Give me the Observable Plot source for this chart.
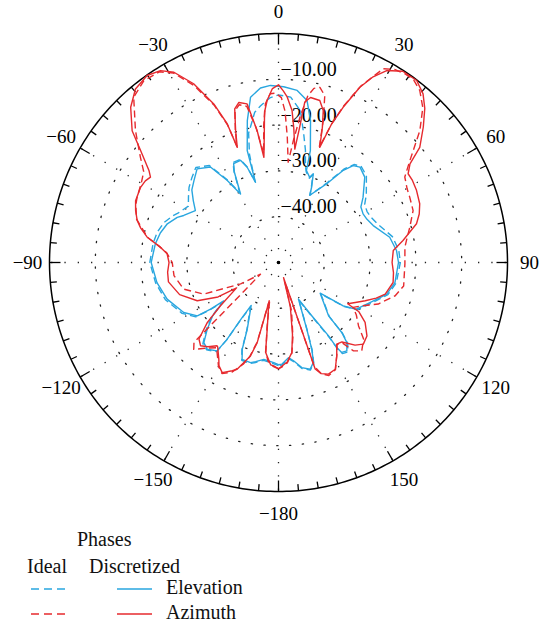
<!DOCTYPE html>
<html><head><meta charset="utf-8">
<script src="https://cdn.jsdelivr.net/npm/d3@7"></script>
<script src="https://cdn.jsdelivr.net/npm/@observablehq/plot@0.6"></script>
<style>
body{margin:0;background:#fff;}
#wrap{position:relative;width:546px;height:624px;font-family:"Liberation Serif",serif;background:#fff;}
#wrap svg{display:block;}
#legend{position:absolute;left:0;top:518px;}
</style></head><body><div id="wrap"></div>
<script>
// ---- data: [angle (deg, clockwise from top), level (dB)] ----
const elevationIdeal = [
[-180,-27.5],[-177,-27.9],[-171.4,-28.4],[-167,-27.6],[-164.4,-27.1],[-159.4,-27.2],[-157.3,-29.3],[-154.9,-33.7],
[-147.8,-38.5],[-146.6,-35],[-146.2,-29.6],[-145.2,-26.3],[-140.6,-25.3],[-137,-25.8],[-133.1,-28.3],[-129,-31.2],
[-125.3,-35],[-124.6,-31.6],[-123.3,-28.4],[-117.8,-26.2],[-108.2,-24],[-99.4,-22.8],[-90,-21.9],[-81.4,-22.3],
[-76,-22.7],[-70.8,-23.5],[-66,-24.8],[-63.6,-25.6],[-58,-26.8],[-54,-25.7],[-50,-24.5],[-45.9,-23.6],[-41,-22.5],
[-35.5,-24],[-32,-28.5],[-29,-32.5],[-26,-27.8],[-24.4,-26],[-20.4,-26],[-18.2,-28],[-16.2,-31.5],[-15,-25.5],
[-13,-21],[-11.7,-19.8],[-9,-16.8],[-6.6,-15.6],[-3,-14],[0,-13.4],[4.2,-13.8],[8.2,-16.5],[11.1,-21.4],[13.5,-24.8],
[15.5,-28],[17,-29.3],[20.1,-30.4],[21.4,-29.4],[23.7,-32.2],[25,-33.8],[31.4,-29.6],[35.1,-25],[37.6,-23],[40.5,-22.3],
[45.3,-23],[52.4,-25.8],[56,-27.3],[60.1,-27.7],[64,-27.5],[68.7,-26.8],[77.2,-24.5],[84.2,-23.6],[90,-23.4],[99.8,-23.9],
[106.4,-25.1],[113.7,-27.9],[121,-29.9],[123.8,-32.7],[126.6,-38.5],[136.8,-33.8],[137.9,-29.1],[139.5,-26.7],[142.3,-25.3],
[144.9,-25.7],[145.6,-27.2],[145.9,-30.4],[148.2,-36.1],[151.6,-40.6],[157,-34],[159,-29.5],[160.7,-26.7],[163.5,-25.5],
[167.5,-26.3],[171.3,-28.1],[174,-28.9],[178,-27.6],[180,-27.5]
];
const elevationDiscretized = [
[-180,-27.7],[-177.3,-28.1],[-171.4,-28.6],[-167,-27.8],[-164.4,-27.3],[-159.4,-27.4],[-157.3,-29.5],[-154.9,-33.9],
[-147.5,-38.9],[-146.5,-35.1],[-146.2,-29.8],[-145.2,-26.5],[-140.6,-25.5],[-137,-26.1],[-133.1,-28.7],[-129,-31.5],
[-125,-35.4],[-124.5,-32],[-123.3,-28.8],[-117.8,-26.6],[-108.2,-24.4],[-99.4,-23.1],[-90,-22.2],[-81.4,-22.8],
[-76,-23.4],[-70.8,-24.3],[-66,-25.8],[-63.6,-26.9],[-58,-28.6],[-54,-27],[-50,-25.3],[-45.9,-24.3],[-41,-22.9],
[-35.5,-24.4],[-32,-28.9],[-29,-32.9],[-26,-28],[-24.4,-26.3],[-20.4,-26.2],[-18.2,-28.1],[-16,-31.8],[-15.6,-24.6],
[-12.4,-18.3],[-9.6,-13.4],[-5.9,-11.7],[-2.6,-11.3],[1.7,-11.6],[6.2,-12.2],[10,-14.1],[12.7,-18.2],[15.9,-24.6],
[16.9,-29],[20.1,-30.2],[21.4,-29.2],[23.7,-32],[25,-33.8],[31.4,-29.9],[35.1,-25.4],[37.6,-23.3],[40.5,-22.6],
[45.3,-23.5],[52.4,-26.7],[56,-28.3],[60.1,-28.7],[64,-28.5],[68.7,-27.8],[77.2,-25.1],[84.2,-24.1],[90,-23.8],
[99.8,-24.2],[106.4,-25.4],[113.7,-28.2],[121,-30.2],[123.8,-33],[126.4,-38.7],[136.8,-34],[137.9,-29.4],[139.5,-27],
[142.3,-25.6],[144.9,-26],[145.6,-27.5],[145.7,-30.6],[148,-36.3],[151.4,-40.9],[157,-34.2],[159,-29.7],[160.7,-26.9],
[163.5,-25.7],[167.5,-26.5],[171.3,-28.3],[174,-29.1],[178,-27.8],[180,-27.7]
];
const azimuthIdeal = [
[-180,-26.8],[-177,-27.3],[-174,-28.3],[-172,-30.2],[-170,-35.5],[-166.6,-41.8],[-165,-32],[-163,-28.5],[-161,-26.6],
[-157,-24],[-153,-22.8],[-150,-23.8],[-148,-25],[-144,-27],[-140,-25.6],[-135.7,-23.5],[-133.4,-24.6],[-132.8,-29.8],
[-131.8,-35],[-129.7,-40.2],[-123,-45.3],[-119.5,-40.5],[-116,-37.5],[-113,-32.3],[-105.7,-28.5],[-97.2,-27],[-90,-26.8],
[-85,-25.5],[-82,-23.5],[-79,-20.8],[-73,-17.6],[-68,-16.4],[-65.2,-16],[-60,-15.4],[-56,-14.5],[-52.7,-12.1],
[-47.3,-7.5],[-41.2,-2],[-36.5,-0.6],[-32,-0.9],[-29,-2.7],[-25.5,-7.2],[-22.2,-13],[-20.3,-18],[-19.7,-23],[-18,-19.5],
[-16,-15.5],[-14,-14.5],[-11.5,-15.2],[-9.5,-20],[-7.7,-26],[-6.2,-20],[-4.7,-15.2],[-2.8,-13.1],[-1,-13],[1,-14],
[2.5,-17],[4,-22.5],[5.5,-28],[7,-23],[8.5,-17.5],[10,-13],[11.5,-11.2],[13.3,-10.7],[15.5,-12.2],[17.5,-17.5],
[19.5,-23.3],[21,-17.5],[22.6,-13],[25,-7.5],[28.4,-1.9],[31,-0.8],[34,-0.4],[36.5,-0.4],[39.4,-1.4],[43,-3.8],
[47,-7.8],[52.2,-13.7],[55.9,-16.7],[60,-17.6],[63.6,-18],[68.9,-18.5],[74.9,-20.3],[80,-21.6],[83.1,-22.2],[90.6,-22.4],
[100.6,-22.2],[105.9,-23.5],[112.6,-26.4],[117.5,-29.5],[121,-31],[124,-29.5],[128.4,-27.7],[132,-25],[136.7,-23.5],
[139.7,-24.7],[141.5,-27.5],[144.5,-28],[148,-26],[152,-23.5],[156,-23],[159,-24],[161,-26],[161.8,-45.5],[165,-39],
[169,-33.5],[171.6,-30],[175,-28],[178,-27.2],[180,-26.8]
];
const azimuthDiscretized = [
[-180,-26.8],[-177.4,-27.4],[-175.6,-27.6],[-171.8,-30.2],[-170.4,-35.2],[-166.4,-41],[-165.1,-31.9],[-163.3,-28.7],
[-160.9,-26.9],[-158.8,-25],[-156.9,-24.3],[-152.9,-23],[-150,-24],[-148.3,-25.2],[-144.2,-27.3],[-143.6,-27.4],
[-140,-26],[-136.9,-25.1],[-133.9,-25.9],[-130.1,-29.7],[-126.7,-34.2],[-121.2,-39.3],[-119.7,-34.8],[-115.2,-30.4],
[-108,-27.3],[-100,-25.6],[-95,-25.7],[-90,-26.1],[-85.5,-25.6],[-82.6,-24],[-79.1,-20.8],[-76,-19],[-73.4,-17.8],
[-70,-16.8],[-66.6,-16],[-61.4,-15.7],[-58.5,-15.9],[-56.3,-16.4],[-54.6,-15.3],[-50.9,-11.2],[-48,-7],[-43.6,-3.2],
[-39.5,-0.9],[-35.1,-0.1],[-31.6,-0.8],[-28.8,-2.6],[-25.4,-6.8],[-22.2,-12.6],[-20.3,-17.7],[-19.7,-23.3],[-18,-19.7],
[-15.9,-15.1],[-13.9,-14],[-11.2,-14.7],[-9.2,-20.8],[-7.9,-26.8],[-6.5,-22.5],[-5.3,-17],[-4,-14.5],[-2,-12],[0,-11.2],
[1.6,-12.5],[3,-13.8],[5.1,-16.7],[6.5,-20.5],[8.2,-25],[8.9,-20.1],[9.3,-14.5],[11,-13.3],[14.3,-13.5],[16.4,-15.4],
[18,-19],[19.7,-23.3],[21,-17.5],[22.6,-13.3],[24.9,-7.8],[27,-4.5],[29.4,-1.9],[33,-0.2],[37.2,-0.1],[40.6,-1.5],
[43.5,-3.6],[46.9,-6.7],[50.8,-10.2],[53.1,-14.1],[55.6,-15.7],[58.5,-15.7],[62.4,-16],[67.4,-16.6],[71,-17.5],
[74.3,-18.7],[80,-22.4],[84,-24.8],[90,-25.2],[95,-24.8],[99.9,-24.6],[106.5,-25.7],[110,-27.3],[113.8,-29.3],
[117.5,-31.1],[120.8,-32.4],[121.5,-29.4],[124.7,-27],[129.7,-24.9],[133.9,-24.3],[137.2,-25.4],[141.4,-27.8],
[144.5,-28.1],[148,-26],[152,-23.6],[155.9,-23.3],[159,-24],[161,-25.4],[161.6,-46.5],[165,-40],[169,-34],
[171.6,-30.1],[175,-28.2],[178,-27.4],[180,-26.8]
];
const angleLabels = [0,30,60,90,120,150,180,-150,-120,-90,-60,-30];
const angleLabelText = ["0","30","60","90","120","150","\u2212180","\u2212150","\u2212120","\u221290","\u221260","\u221230"];
const radialTicks = [-10,-20,-30,-40];
const radialTickText = ["\u221210.00","\u221220.00","\u221230.00","\u221240.00"];
const ringLevels = [-10,-20,-30,-40];
const spokeAngles = [0,30,60,90,120,150,180,210,240,270,300,330];
const legendTitle = "Phases";
const legendColumns = ["Ideal","Discretized"];
const seriesNames = ["Elevation","Azimuth"];

// ---- drawing ----
const BLUE = "#29a6df", RED = "#e62a2e";
const FLOOR = -50, TOP = 0;
const rad = a => a * Math.PI / 180;
const px = (a, v) => (v - FLOOR) * Math.sin(rad(a));
const py = (a, v) => (v - FLOOR) * Math.cos(rad(a));
const circle = v => d3.range(0, 361, 1).map(a => [a, v]);
const XY = {x: d => px(d[0], d[1]), y: d => py(d[0], d[1])};
const PXPERDB = 229 / (TOP - FLOOR);

const tickAngles = d3.range(0, 360, 5);

const marks = [];
for (const v of ringLevels) {
  marks.push(Plot.line(circle(v), {...XY, stroke: "#222", strokeWidth: 1.3, strokeDasharray: "1.3 11.5"}));
}
marks.push(Plot.link(spokeAngles, {x1: () => 0, y1: () => 0, x2: a => px(a, TOP), y2: a => py(a, TOP),
  stroke: "#222", strokeWidth: 1.3, strokeDasharray: "1.3 12"}));
marks.push(Plot.dot([0], {x: () => 0, y: () => 0, r: 1.8, fill: "#000", stroke: null}));
marks.push(Plot.line(circle(TOP), {...XY, stroke: "#000", strokeWidth: 1.5}));
marks.push(Plot.link(tickAngles, {
  x1: a => px(a, TOP), y1: a => py(a, TOP),
  x2: a => px(a, TOP - (a % 30 === 0 ? 11 : 6.5) / PXPERDB),
  y2: a => py(a, TOP - (a % 30 === 0 ? 11 : 6.5) / PXPERDB),
  stroke: "#000", strokeWidth: 1.3}));
marks.push(Plot.text(angleLabels, {
  x: a => px(a, TOP + 22 / PXPERDB), y: a => py(a, TOP + 22 / PXPERDB),
  text: (a, i) => angleLabelText[i], fontSize: 19, fill: "#000", textAnchor: "middle"}));
marks.push(Plot.text(radialTicks, {
  x: () => 0, y: v => py(0, v), text: (v, i) => radialTickText[i],
  textAnchor: "start", dx: 2, dy: -10, fontSize: 20, fill: "#000"}));

const curveStyle = {strokeWidth: 1.4, strokeLinejoin: "round", strokeLinecap: "butt"};
marks.push(Plot.line(elevationIdeal, {...XY, ...curveStyle, stroke: BLUE, strokeDasharray: "7 4"}));
marks.push(Plot.line(elevationDiscretized, {...XY, ...curveStyle, stroke: BLUE}));
marks.push(Plot.line(azimuthIdeal, {...XY, ...curveStyle, stroke: RED, strokeDasharray: "7 4"}));
marks.push(Plot.line(azimuthDiscretized, {...XY, ...curveStyle, stroke: RED}));

const chart = Plot.plot({
  width: 546, height: 518,
  marginTop: 0, marginRight: 0, marginBottom: 0, marginLeft: 0,
  x: {domain: [FLOOR - TOP, TOP - FLOOR], range: [49, 507], axis: null},
  y: {domain: [FLOOR - TOP, TOP - FLOOR], range: [491, 33], axis: null},
  style: {fontFamily: "'Liberation Serif', serif", background: "white", overflow: "visible", color: "#000"},
  marks
});
const wrap = document.getElementById("wrap");
wrap.appendChild(chart);

// ---- legend (below the plot) ----
const NS = "http://www.w3.org/2000/svg";
const leg = document.createElementNS(NS, "svg");
leg.setAttribute("id", "legend");
leg.setAttribute("width", 546);
leg.setAttribute("height", 106);
leg.style.fontFamily = "'Liberation Serif', serif";
function txt(x, y, s) {
  const t = document.createElementNS(NS, "text");
  t.setAttribute("x", x); t.setAttribute("y", y);
  t.setAttribute("font-size", 20); t.setAttribute("fill", "#111");
  t.textContent = s; leg.appendChild(t);
}
function seg(x1, x2, y, color, dashed) {
  const l = document.createElementNS(NS, "line");
  l.setAttribute("x1", x1); l.setAttribute("x2", x2);
  l.setAttribute("y1", y); l.setAttribute("y2", y);
  l.setAttribute("stroke", color); l.setAttribute("stroke-width", 1.4);
  if (dashed) l.setAttribute("stroke-dasharray", "8 5");
  leg.appendChild(l);
}
txt(77, 28, legendTitle);
txt(27, 55, legendColumns[0]);
txt(89, 55, legendColumns[1]);
const colors = [BLUE, RED];
seriesNames.forEach((name, i) => {
  const y = 71 + i * 25;
  seg(31, 66, y, colors[i], true);
  seg(117, 152, y, colors[i], false);
  txt(166, y + 5, name);
});
wrap.appendChild(leg);
</script>
</body></html>
